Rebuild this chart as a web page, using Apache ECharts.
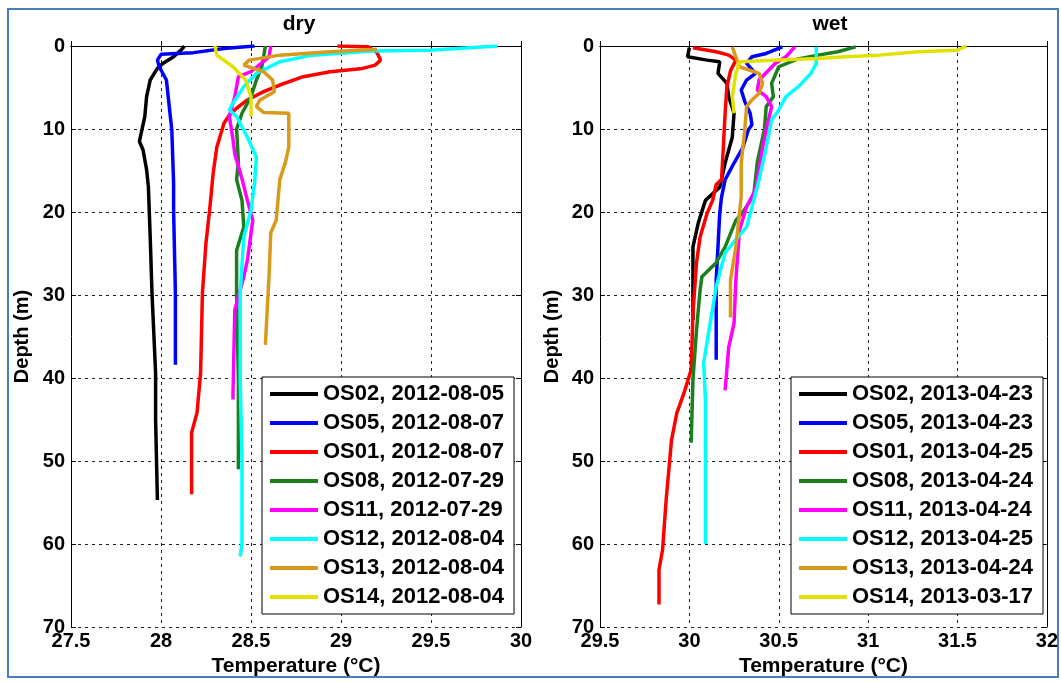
<!DOCTYPE html>
<html>
<head>
<meta charset="utf-8">
<title>dry / wet temperature profiles</title>
<script src="https://cdn.jsdelivr.net/npm/echarts@6/dist/echarts.min.js"></script>
<style>
  html, body { margin: 0; padding: 0; background: #fff; }
  #chart { width: 1061px; height: 682px; }
</style>
</head>
<body>
<div id="chart"></div>
<script>
// Temperature (degC), depth (m) pairs

// dry season
const dryNames = ['OS02, 2012-08-05', 'OS05, 2012-08-07', 'OS01, 2012-08-07', 'OS08, 2012-07-29',
    'OS11, 2012-07-29', 'OS12, 2012-08-04', 'OS13, 2012-08-04', 'OS14, 2012-08-04'];
const dryOS02 = [[28.13, 0], [28.12, 0.3], [28.07, 1.3], [28.01, 2.1], [27.98, 2.7], [27.94, 4.1], [27.92, 6.1],
    [27.91, 8.5], [27.89, 10.5], [27.88, 11.5], [27.9, 12.5], [27.92, 14.9], [27.93, 17], [27.94, 23],
    [27.95, 29.8], [27.97, 39.4], [27.97, 45], [27.98, 54.7]];
const dryOS05 = [[28.52, 0], [28.35, 0.3], [28.18, 0.8], [28.0, 1.0], [27.98, 1.7], [27.99, 2.5], [28.03, 4.1],
    [28.05, 8.1], [28.06, 10.1], [28.07, 16.5], [28.07, 19.8], [28.08, 29.8], [28.08, 38.4]];
const dryOS01 = [[28.98, 0], [29.15, 0.1], [29.2, 0.8], [29.22, 1.7], [29.19, 2.3], [29.12, 2.7], [28.94, 3.1],
    [28.79, 3.7], [28.66, 4.7], [28.57, 5.5], [28.48, 6.5], [28.42, 7.5], [28.38, 8.3], [28.35, 9.3],
    [28.31, 12.2], [28.29, 15.3], [28.27, 19.8], [28.25, 23.7], [28.23, 29.8], [28.22, 39.4], [28.2, 44.2],
    [28.17, 46.6], [28.17, 54]];
const dryOS08 = [[28.58, 0], [28.57, 1.3], [28.56, 2.5], [28.53, 4.1], [28.5, 6.1], [28.45, 8.1], [28.42, 10],
    [28.43, 14], [28.42, 16.1], [28.45, 18.6], [28.46, 21.8], [28.42, 24.6], [28.42, 29.8], [28.43, 40.2],
    [28.43, 51]];
const dryOS11 = [[28.61, 0], [28.6, 1.3], [28.5, 3.1], [28.43, 3.7], [28.41, 6.1], [28.38, 8.5], [28.4, 11.3],
    [28.41, 13], [28.45, 16], [28.48, 18.6], [28.51, 21], [28.48, 25.8], [28.46, 27.8], [28.41, 31.8],
    [28.4, 41.8], [28.4, 42.6]];
const dryOS12 = [[29.87, 0], [29.49, 0.5], [29.18, 0.6], [28.84, 1.1], [28.66, 1.9], [28.53, 3.3], [28.46, 4.9],
    [28.4, 6.9], [28.38, 7.7], [28.42, 8.5], [28.48, 11], [28.53, 13.4], [28.52, 16.5], [28.5, 19.8],
    [28.46, 23], [28.44, 29.8], [28.44, 40.2], [28.45, 50], [28.45, 59.9], [28.44, 61.5]];
const dryOS13 = [[29.2, 0.4], [28.94, 0.7], [28.66, 1.1], [28.49, 1.7], [28.46, 2.3], [28.57, 3.1], [28.62, 4.1],
    [28.63, 5.5], [28.55, 6.5], [28.53, 7.3], [28.57, 8], [28.71, 8.1], [28.71, 12.2], [28.69, 14.1],
    [28.66, 16.1], [28.64, 21], [28.61, 22.5], [28.6, 27.8], [28.59, 31.8], [28.58, 36]];
const dryOS14 = [[28.3, 0], [28.31, 1.1], [28.4, 2.5], [28.47, 4.1], [28.5, 6.1], [28.5, 8.5]];

// wet season
const wetNames = ['OS02, 2013-04-23', 'OS05, 2013-04-23', 'OS01, 2013-04-25', 'OS08, 2013-04-24',
    'OS11, 2013-04-24', 'OS12, 2013-04-25', 'OS13, 2013-04-24', 'OS14, 2013-03-17'];
const wetOS02 = [[30.0, 0.2], [29.99, 1.3], [30.1, 1.7], [30.17, 1.9], [30.16, 3.3], [30.21, 4.5], [30.22, 6.1],
    [30.25, 8.1], [30.24, 11], [30.2, 14.1], [30.17, 17], [30.09, 18.6], [30.05, 21.3], [30.02, 24.2],
    [30.02, 28], [30.02, 33]];
const wetOS05 = [[30.52, 0.1], [30.43, 0.9], [30.35, 1.3], [30.32, 2.1], [30.37, 3.3], [30.32, 4.1], [30.29, 5.3],
    [30.31, 6.7], [30.34, 8.1], [30.35, 9.5], [30.33, 10.1], [30.3, 12.2], [30.25, 14.1], [30.2, 16.1],
    [30.18, 18.2], [30.17, 20.1], [30.16, 24.2], [30.15, 28.2], [30.15, 37.8]];
const wetOS01 = [[30.02, 0.2], [30.15, 0.7], [30.22, 1.1], [30.26, 1.7], [30.23, 3], [30.21, 4.9], [30.2, 8.1],
    [30.19, 12.2], [30.18, 16.1], [30.15, 16.7], [30.13, 18.6], [30.1, 20.1], [30.06, 23], [30.04, 26.1],
    [30.02, 32.2], [30.01, 39], [29.97, 41.8], [29.93, 44.2], [29.9, 47.5], [29.87, 54.7], [29.85, 60.7],
    [29.83, 63.1], [29.83, 67.3]];
const wetOS08 = [[30.93, 0.1], [30.83, 0.7], [30.72, 1.1], [30.6, 1.6], [30.5, 2.5], [30.46, 4.5], [30.47, 6.1],
    [30.43, 7.3], [30.42, 10], [30.38, 14], [30.36, 18], [30.3, 20], [30.26, 21], [30.2, 24.2],
    [30.15, 26.1], [30.07, 27.8], [30.06, 29.4], [30.04, 34.2], [30.02, 40.2], [30.01, 47.8]];
const wetOS11 = [[30.59, 0.1], [30.54, 1.3], [30.48, 2.1], [30.39, 4.1], [30.38, 5.3], [30.43, 6.1], [30.46, 7.3],
    [30.43, 10.1], [30.41, 12.2], [30.37, 17.3], [30.32, 19.4], [30.28, 22.2], [30.26, 28.2], [30.25, 33.4],
    [30.22, 36.3], [30.2, 41.5]];
const wetOS12 = [[30.71, 0.1], [30.71, 2.1], [30.68, 3.3], [30.61, 4.9], [30.54, 6.1], [30.5, 7.7], [30.46, 8.9],
    [30.43, 12.2], [30.39, 16.1], [30.35, 19.4], [30.32, 21.8], [30.2, 24.9], [30.15, 29], [30.11, 34.2],
    [30.08, 38.2], [30.09, 42.6], [30.09, 60]];
const wetOS13 = [[30.24, 0.1], [30.26, 1.3], [30.28, 2.5], [30.39, 3.3], [30.41, 4.5], [30.39, 5.7], [30.35, 6.5],
    [30.32, 7.3], [30.31, 10.1], [30.29, 14.1], [30.29, 18.2], [30.26, 24.2], [30.23, 28.2], [30.23, 32.7]];
const wetOS14 = [[31.55, 0], [31.5, 0.5], [31.28, 0.7], [31.06, 1.1], [30.87, 1.3], [30.72, 1.5], [30.5, 1.7],
    [30.28, 1.9], [30.26, 3.3], [30.24, 6.1], [30.25, 8.1]];

const dryData = [dryOS02, dryOS05, dryOS01, dryOS08, dryOS11, dryOS12, dryOS13, dryOS14];
const wetData = [wetOS02, wetOS05, wetOS01, wetOS08, wetOS11, wetOS12, wetOS13, wetOS14];
const lineColors = ['#000000', '#0000ff', '#ff0000', '#1b7f1b', '#ff00ff', '#00ffff', '#d99a1c', '#e2e200'];

const dryTicks = [27.5, 30, 0.5];
const wetTicks = [29.5, 32, 0.5];
const depthTicks = [0, 70, 10];

const FONT = 'Liberation Sans, Arial, sans-serif';
const gridLine = { show: true, lineStyle: { color: '#222', type: [3, 4], width: 1 } };
const blackLine = { show: true, lineStyle: { color: '#000', width: 1 } };

function xAxes(gridIndex, ticks) {
    const base = { gridIndex, type: 'value', min: ticks[0], max: ticks[1], interval: ticks[2] };
    return [
        {
            ...base,
            position: 'bottom',
            axisLine: blackLine,
            axisTick: { inside: true, length: 5, lineStyle: { color: '#000' } },
            axisLabel: { color: '#000', fontFamily: FONT, fontWeight: 'bold', fontSize: 20, margin: 4,
                showMinLabel: true, showMaxLabel: true },
            splitLine: gridLine,
            name: 'Temperature (°C)',
            nameLocation: 'middle',
            nameGap: 27,
            nameTextStyle: { color: '#000', fontFamily: FONT, fontWeight: 'bold', fontSize: 21 }
        },
        {
            ...base,
            position: 'top',
            axisLine: blackLine,
            axisTick: { inside: true, length: 5, lineStyle: { color: '#000' } },
            axisLabel: { show: false },
            splitLine: { show: false }
        }
    ];
}

function yAxes(gridIndex, nameGap) {
    const base = { gridIndex, type: 'value', inverse: true, min: depthTicks[0], max: depthTicks[1], interval: depthTicks[2] };
    return [
        {
            ...base,
            position: 'left',
            axisLine: blackLine,
            axisTick: { inside: true, length: 5, lineStyle: { color: '#000' } },
            axisLabel: { color: '#000', fontFamily: FONT, fontWeight: 'bold', fontSize: 20, margin: 6,
                showMinLabel: true, showMaxLabel: true },
            splitLine: gridLine,
            name: 'Depth (m)',
            nameLocation: 'middle',
            nameGap,
            nameTextStyle: { color: '#000', fontFamily: FONT, fontWeight: 'bold', fontSize: 20 }
        },
        {
            ...base,
            position: 'right',
            axisLine: blackLine,
            axisTick: { inside: true, length: 5, lineStyle: { color: '#000' } },
            axisLabel: { show: false },
            splitLine: { show: false }
        }
    ];
}

function legendFor(names, left) {
    return {
        data: names,
        orient: 'vertical',
        left,
        top: 377,
        padding: [6, 10, 6, 8],
        itemGap: 7,
        itemWidth: 48,
        itemHeight: 4,
        icon: 'rect',
        backgroundColor: '#fff',
        borderColor: '#000',
        borderWidth: 1,
        borderRadius: 0,
        selectedMode: false,
        textStyle: { color: '#000', fontFamily: FONT, fontWeight: 'bold', fontSize: 22, lineHeight: 22 }
    };
}

function buildSeries(names, data, xIdx, yIdx) {
    return data.map((points, i) => ({
        name: names[i],
        type: 'line',
        xAxisIndex: xIdx,
        yAxisIndex: yIdx,
        data: points,
        showSymbol: false,
        symbol: 'none',
        color: lineColors[i],
        lineStyle: { color: lineColors[i], width: 3.5 },
        emphasis: { disabled: true }
    }));
}

const chart = echarts.init(document.getElementById('chart'));

chart.setOption({
    animation: false,
    backgroundColor: '#fff',
    title: [
        { text: 'dry', left: 294, top: 9, textAlign: 'center',
          textStyle: { color: '#000', fontFamily: FONT, fontWeight: 'bold', fontSize: 21 } },
        { text: 'wet', left: 825, top: 9, textAlign: 'center',
          textStyle: { color: '#000', fontFamily: FONT, fontWeight: 'bold', fontSize: 21 } }
    ],
    grid: [
        { left: 71, top: 46, width: 450, height: 581 },
        { left: 600, top: 46, width: 450, height: 581 }
    ],
    xAxis: [...xAxes(0, dryTicks), ...xAxes(1, wetTicks)],
    yAxis: [...yAxes(0, 39), ...yAxes(1, 38)],
    legend: [legendFor(dryNames, 262), legendFor(wetNames, 791)],
    series: [...buildSeries(dryNames, dryData, 0, 0), ...buildSeries(wetNames, wetData, 2, 2)],
    graphic: [{
        type: 'rect',
        silent: true,
        shape: { x: 8, y: 9, width: 1050, height: 668 },
        style: { fill: 'none', stroke: '#4a7ebb', lineWidth: 2 }
    }]
});

window.addEventListener('resize', () => chart.resize());
</script>
</body>
</html>
